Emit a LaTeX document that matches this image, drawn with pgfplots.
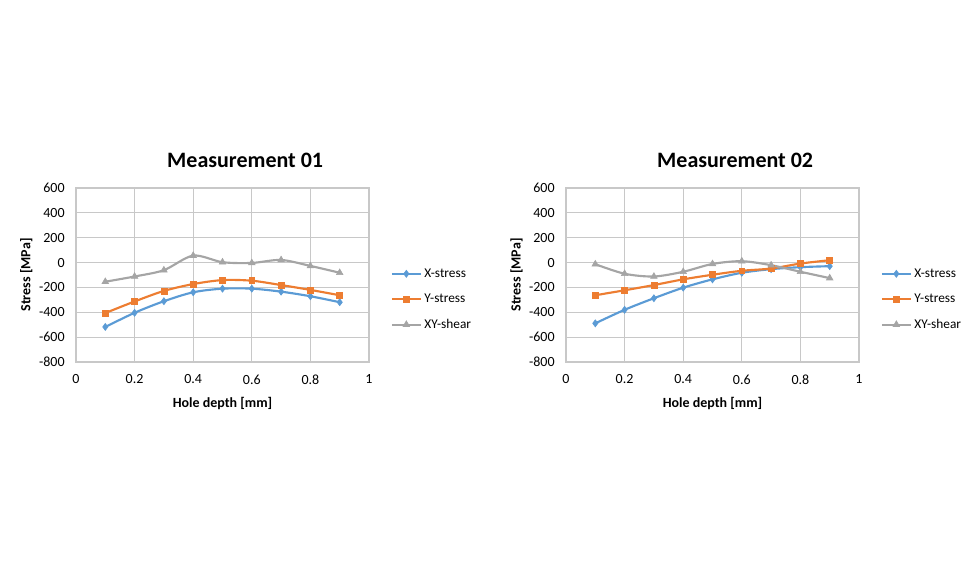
\documentclass[border=0pt]{standalone}
\usepackage{pgfplots}
\pgfplotsset{compat=1.18}
\usepackage{fontspec}
\setmainfont{Carlito}
\definecolor{cX}{HTML}{5B9BD5}
\definecolor{cY}{HTML}{ED7D31}
\definecolor{cXY}{HTML}{A5A5A5}
\definecolor{gridc}{HTML}{C8C8C8}
\pgfplotsset{
  meas/.style={
    scale only axis, width=219.75pt, height=130.5pt,
    xmin=0, xmax=1, ymin=-800, ymax=600,
    xtick={0,0.2,0.4,0.6,0.8,1}, ytick={-800,-600,...,600},
    xticklabels={0,0.2,0.4,0.6,0.8,1},
    grid=major, grid style={gridc, line width=0.8pt},
    axis line style={gridc, line width=0.8pt},
    major tick length=0pt,
    tick label style={font=\fontsize{10.5}{12}\selectfont, text=black},
    xticklabel style={yshift=-6pt},
    yticklabel style={xshift=-5pt},
    /pgf/number format/assume math mode=true,
    xlabel={\textbf{Hole depth [mm]}}, ylabel={\textbf{Stress [MPa]}},
    label style={font=\fontsize{10.5}{12}\selectfont},
    xlabel style={yshift=-3pt}, ylabel style={yshift=-2pt},
    title style={font=\fontsize{16.5}{18}\selectfont\bfseries, yshift=6pt, xshift=17pt},
    legend style={draw=none, fill=none, at={(1.06,0.36)}, anchor=west,
      font=\fontsize{10}{12}\selectfont, row sep=7pt, cells={anchor=west}},
    legend image code/.code={\draw[mark repeat=2,mark phase=2] plot coordinates {(0cm,0cm) (0.38cm,0cm) (0.76cm,0cm)};},
    every axis plot/.append style={line width=1.6pt, smooth, tension=0.5},
  },
  sx/.style={color=cX, mark=diamond*, mark size=2.6pt, mark options={fill=cX, line width=0.5pt}},
  sy/.style={color=cY, mark=square*, mark size=2.2pt, mark options={fill=cY, line width=0.5pt}},
  sxy/.style={color=cXY, mark=triangle*, mark size=2.8pt, mark options={fill=cXY, line width=0.5pt}},
}
\begin{document}
\begin{tikzpicture}
\useasboundingbox (0,0) rectangle (735pt,420pt);
\begin{axis}[meas, at={(57pt,148.5pt)}, anchor=south west, title={Measurement 01}]
\addplot[sx] coordinates {(0.1,-518) (0.2,-404) (0.3,-311) (0.4,-239) (0.5,-210) (0.6,-210) (0.7,-234) (0.8,-271) (0.9,-319)};
\addlegendentry{X-stress}
\addplot[sy] coordinates {(0.1,-406) (0.2,-313) (0.3,-228) (0.4,-173) (0.5,-141) (0.6,-146) (0.7,-181) (0.8,-220) (0.9,-263)};
\addlegendentry{Y-stress}
\addplot[sxy] coordinates {(0.1,-154) (0.2,-112) (0.3,-61) (0.4,56) (0.5,3) (0.6,-3) (0.7,21) (0.8,-27) (0.9,-82)};
\addlegendentry{XY-shear}
\end{axis}
\begin{axis}[meas, at={(424.5pt,148.5pt)}, anchor=south west, title={Measurement 02}]
\addplot[sx] coordinates {(0.1,-489) (0.2,-380) (0.3,-287) (0.4,-202) (0.5,-135) (0.6,-82) (0.7,-53) (0.8,-37) (0.9,-29)};
\addlegendentry{X-stress}
\addplot[sy] coordinates {(0.1,-263) (0.2,-223) (0.3,-181) (0.4,-135) (0.5,-98) (0.6,-66) (0.7,-48) (0.8,-8) (0.9,19)};
\addlegendentry{Y-stress}
\addplot[sxy] coordinates {(0.1,-13) (0.2,-90) (0.3,-112) (0.4,-74) (0.5,-11) (0.6,11) (0.7,-21) (0.8,-74) (0.9,-125)};
\addlegendentry{XY-shear}
\end{axis}
\end{tikzpicture}
\end{document}
